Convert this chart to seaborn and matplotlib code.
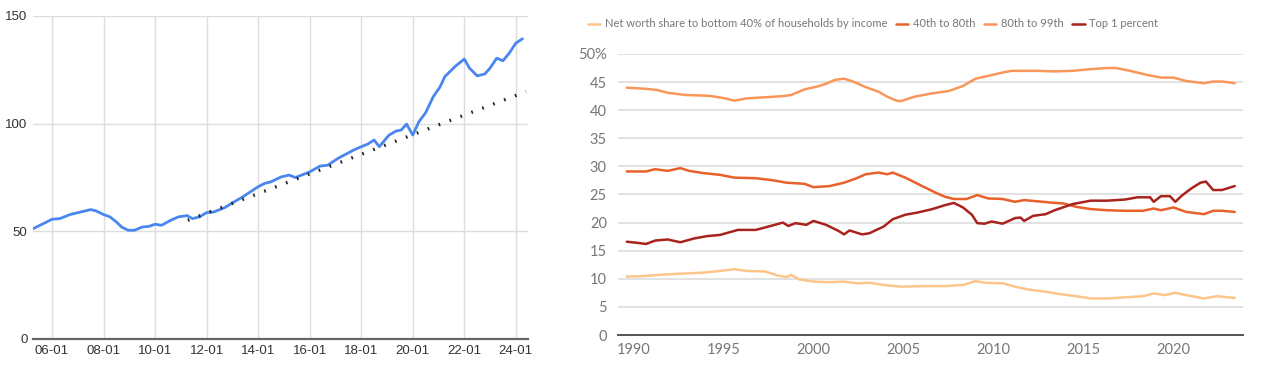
import seaborn as sns
import pandas as pd
from matplotlib import pyplot as plt
from matplotlib import font_manager

# left panel: index series (decimal years)
idx_x = [2005.26, 2006.0, 2006.3, 2006.7, 2007.5, 2007.7, 2008.0, 2008.25, 2008.5, 2008.7,
         2008.95, 2009.2, 2009.5, 2009.76, 2010.0, 2010.25, 2010.6, 2010.9, 2011.24, 2011.45,
         2011.72, 2012.0, 2012.28, 2012.7, 2013.0, 2013.4, 2014.0, 2014.24, 2014.5, 2014.9,
         2015.2, 2015.45, 2016.0, 2016.4, 2016.7, 2017.1, 2017.7, 2018.0, 2018.25, 2018.5,
         2018.7, 2019.08, 2019.36, 2019.55, 2019.76, 2020.0, 2020.24, 2020.5, 2020.8, 2021.05,
         2021.25, 2021.65, 2022.0, 2022.2, 2022.5, 2022.8, 2023.0, 2023.26, 2023.5, 2023.75,
         2024.0, 2024.26]
idx_y = [51.2, 55.6, 55.9, 57.8, 60.1, 59.5, 57.8, 56.7, 54.3, 52.0,
         50.5, 50.5, 52.0, 52.3, 53.3, 52.8, 55.1, 56.7, 57.3, 55.9,
         56.7, 58.7, 59.0, 61.0, 63.2, 66.0, 70.7, 72.2, 73.0, 75.3,
         76.1, 75.0, 77.6, 80.3, 80.7, 83.9, 87.7, 89.3, 90.5, 92.4,
         89.3, 94.7, 96.6, 97.0, 99.8, 94.7, 100.9, 105.1, 112.6, 116.9,
         121.9, 126.6, 130.0, 125.8, 122.2, 123.1, 125.8, 130.4, 129.2, 132.8,
         137.4, 139.4]
trend_x = [2011.27, 2024.4]
trend_y = [55.1, 114.9]
left_ticks = [2006, 2008, 2010, 2012, 2014, 2016, 2018, 2020, 2022, 2024]
left_labels = ["06-01", "08-01", "10-01", "12-01", "14-01", "16-01", "18-01", "20-01", "22-01", "24-01"]

# right panel: net worth shares
p80_x = [1989.63, 1990.7, 1991.3, 1991.9, 1992.9, 1993.9, 1994.35, 1995.1, 1995.6, 1996.3,
         1997.3, 1998.3, 1998.75, 1999.5, 2000.2, 2000.7, 2001.2, 2001.7, 2002.2, 2002.9,
         2003.6, 2004.1, 2004.6, 2004.85, 2005.6, 2006.6, 2007.5, 2008.3, 2009.0, 2009.7,
         2010.5, 2011.0, 2011.5, 2012.4, 2013.4, 2014.4, 2015.4, 2016.3, 2016.8, 2017.6,
         2018.5, 2019.3, 2020.0, 2020.7, 2021.7, 2022.2, 2022.7, 2023.4]
p80_y = [44.0, 43.8, 43.6, 43.1, 42.7, 42.6, 42.5, 42.1, 41.7, 42.1,
         42.3, 42.5, 42.7, 43.7, 44.2, 44.7, 45.4, 45.6, 45.1, 44.1,
         43.3, 42.4, 41.7, 41.6, 42.4, 43.0, 43.4, 44.3, 45.6, 46.1,
         46.7, 47.0, 47.0, 47.0, 46.9, 47.0, 47.3, 47.5, 47.5, 47.0,
         46.3, 45.8, 45.8, 45.2, 44.8, 45.1, 45.1, 44.8]

p40_x = [1989.63, 1990.7, 1991.2, 1991.9, 1992.6, 1993.1, 1993.9, 1994.8, 1995.6, 1996.8,
         1997.8, 1998.5, 1999.0, 1999.5, 2000.0, 2000.9, 2001.7, 2002.4, 2002.9, 2003.6,
         2004.1, 2004.4, 2005.1, 2006.1, 2006.8, 2007.3, 2007.8, 2008.5, 2009.1, 2009.7,
         2010.5, 2011.2, 2011.7, 2012.4, 2013.4, 2013.9, 2014.6, 2015.4, 2016.3, 2017.3,
         2018.3, 2018.9, 2019.3, 2020.0, 2020.7, 2021.7, 2022.2, 2022.7, 2023.4]
p40_y = [29.1, 29.1, 29.5, 29.2, 29.7, 29.2, 28.8, 28.5, 28.0, 27.9,
         27.5, 27.1, 27.0, 26.9, 26.3, 26.5, 27.1, 27.9, 28.6, 28.9,
         28.6, 28.9, 28.0, 26.4, 25.3, 24.6, 24.2, 24.2, 24.9, 24.3,
         24.2, 23.7, 24.0, 23.8, 23.5, 23.4, 22.8, 22.4, 22.2, 22.1,
         22.1, 22.5, 22.2, 22.7, 21.9, 21.5, 22.1, 22.1, 21.9]

top1_x = [1989.63, 1990.2, 1990.7, 1991.2, 1991.9, 1992.6, 1993.4, 1994.1, 1994.8, 1995.8,
          1996.8, 1997.5, 1998.3, 1998.6, 1999.0, 1999.6, 2000.0, 2000.7, 2001.4, 2001.7,
          2002.0, 2002.7, 2003.1, 2003.9, 2004.4, 2005.1, 2005.8, 2006.6, 2007.3, 2007.8,
          2008.3, 2008.8, 2009.1, 2009.5, 2009.9, 2010.5, 2011.2, 2011.5, 2011.7, 2012.2,
          2012.9, 2013.4, 2014.4, 2015.4, 2016.3, 2017.3, 2018.0, 2018.7, 2018.9, 2019.3,
          2019.8, 2020.1, 2020.5, 2021.0, 2021.5, 2021.8, 2022.2, 2022.7, 2023.4]
top1_y = [16.6, 16.4, 16.2, 16.8, 17.0, 16.5, 17.2, 17.6, 17.8, 18.7,
          18.7, 19.3, 20.0, 19.4, 19.9, 19.6, 20.3, 19.6, 18.5, 17.9,
          18.6, 17.9, 18.1, 19.3, 20.6, 21.4, 21.8, 22.4, 23.1, 23.5,
          22.7, 21.4, 19.9, 19.8, 20.2, 19.8, 20.8, 20.9, 20.3, 21.2,
          21.5, 22.2, 23.3, 23.9, 23.9, 24.1, 24.5, 24.5, 23.7, 24.7,
          24.7, 23.7, 24.9, 26.1, 27.1, 27.3, 25.8, 25.8, 26.5]

bot_x = [1989.63, 1990.7, 1991.4, 1992.6, 1993.9, 1994.8, 1995.6, 1996.3, 1997.3, 1998.0,
         1998.5, 1998.75, 1999.2, 2000.0, 2000.9, 2001.7, 2002.4, 2003.1, 2003.9, 2004.85,
         2006.1, 2007.3, 2008.3, 2009.0, 2009.5, 2010.5, 2011.2, 2011.9, 2012.9, 2013.65,
         2014.6, 2015.4, 2016.3, 2017.3, 2018.3, 2018.9, 2019.5, 2020.1, 2020.7, 2021.7,
         2022.4, 2023.4]
bot_y = [10.4, 10.5, 10.7, 10.9, 11.1, 11.4, 11.7, 11.4, 11.3, 10.6,
         10.3, 10.7, 9.9, 9.5, 9.4, 9.5, 9.2, 9.3, 8.9, 8.6,
         8.7, 8.7, 8.9, 9.6, 9.3, 9.2, 8.6, 8.1, 7.7, 7.3,
         6.9, 6.5, 6.5, 6.7, 6.9, 7.4, 7.1, 7.5, 7.1, 6.5,
         6.9, 6.6]

series_names = ["Net worth share to bottom 40% of households by income", "40th to 80th",
                "80th to 99th", "Top 1 percent"]
series_colors = ["#fdc58a", "#e8602a", "#f9975a", "#a8231d"]
right_ticks = [0, 5, 10, 15, 20, 25, 30, 35, 40, 45, 50]
right_labels = ["0", "5", "10", "15", "20", "25", "30", "35", "40", "45", "50%"]

sns.set_style("white")
fig = plt.figure(figsize=(12.69, 3.77), dpi=100)

# ---- left
ax1 = fig.add_axes([0.026, 0.1008, 0.390, 0.8568])
sns.lineplot(x=idx_x, y=idx_y, ax=ax1, color="#4a86f0", linewidth=2)
sns.lineplot(x=trend_x, y=trend_y, ax=ax1, color="#222222", linewidth=2.4,
             linestyle=(0, (0.5, 3.0)))
ax1.set_xlim(2005.26, 2024.47)
ax1.set_ylim(0, 150)
ax1.set_xticks(left_ticks)
ax1.set_xticklabels(left_labels, family="Liberation Sans", fontsize=9.5, color="#333333")
ax1.set_yticks([0, 50, 100, 150])
ax1.set_yticklabels(["0", "50", "100", "150"], family="Liberation Sans", fontsize=9.5,
                    color="#333333")
ax1.grid(True, color="#dddddd", linewidth=1)
ax1.set_axisbelow(True)
for s in ["top", "right", "left"]:
    ax1.spines[s].set_visible(False)
ax1.spines["bottom"].set_color("#666666")
ax1.spines["bottom"].set_linewidth(1.6)
ax1.tick_params(length=0, pad=4)

# ---- right
ax2 = fig.add_axes([0.487, 0.1114, 0.4925, 0.7454])
right_x = [bot_x, p40_x, p80_x, top1_x]
right_y = [bot_y, p40_y, p80_y, top1_y]
for xs, ys, name, col in zip(right_x, right_y, series_names, series_colors):
    sns.lineplot(x=xs, y=ys, ax=ax2, color=col, linewidth=1.8, label=name)
ax2.set_xlim(1989.14, 2023.86)
ax2.set_ylim(0, 50)
ax2.set_yticks(right_ticks)
ax2.set_yticklabels(right_labels, family="Lato", fontsize=10.5, color="#777777")
ax2.set_xticks([1990, 1995, 2000, 2005, 2010, 2015, 2020])
ax2.set_xticklabels(["1990", "1995", "2000", "2005", "2010", "2015", "2020"],
                    family="Lato", fontsize=10.5, color="#777777")
ax2.grid(True, axis="y", color="#dddddd", linewidth=1.2)
ax2.grid(False, axis="x")
ax2.set_axisbelow(True)
for s in ["top", "right", "left"]:
    ax2.spines[s].set_visible(False)
ax2.spines["bottom"].set_color("#555555")
ax2.spines["bottom"].set_linewidth(1.4)
ax2.tick_params(length=0, pad=6)
ax2.tick_params(axis="y", pad=8)
leg = ax2.legend(loc="center left", bbox_to_anchor=(-0.048, 1.107), ncol=4, frameon=False,
                 handlelength=1.1, handletextpad=0.4, columnspacing=0.8,
                 prop={"family": "Lato", "size": 8}, borderaxespad=0, borderpad=0)
for t in leg.get_texts():
    t.set_color("#777777")

fig.savefig("out.png", dpi=100)
